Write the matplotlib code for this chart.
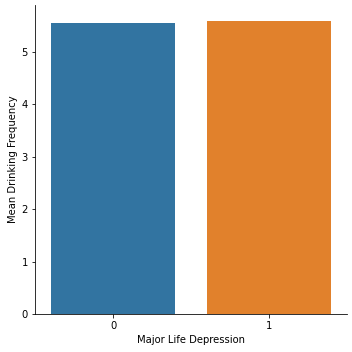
import matplotlib
matplotlib.use("Agg")
import matplotlib.pyplot as plt

categories = ["0", "1"]
values = [5.55, 5.59]
colors = ["#3274a1", "#e1812c"]

fig = plt.figure(figsize=(352/72, 352/72), dpi=72)
ax = fig.add_axes([0.0994, 0.108, 0.8866, 0.878])
ax.bar(range(len(categories)), values, width=0.8, color=colors)
ax.set_xticks(range(len(categories)))
ax.set_xticklabels(categories)
ax.set_xlim(-0.5, 1.5)
ax.set_ylim(0, 5.9)
ax.set_yticks([0, 1, 2, 3, 4, 5])
ax.spines["top"].set_visible(False)
ax.spines["right"].set_visible(False)
ax.set_xlabel("Major Life Depression")
ax.set_ylabel("Mean Drinking Frequency")
fig.savefig("out.png", dpi=72)
